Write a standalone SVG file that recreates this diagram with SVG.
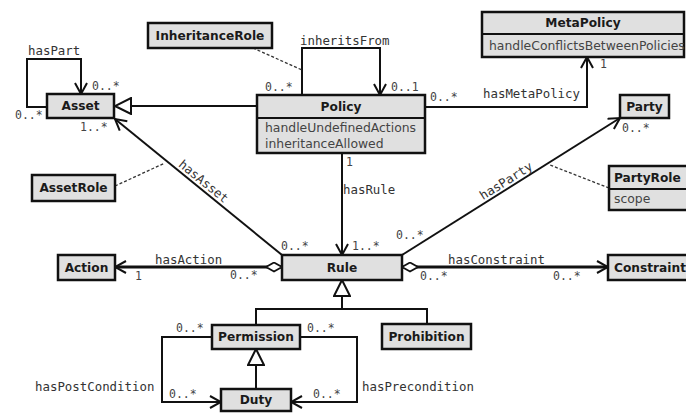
<svg xmlns="http://www.w3.org/2000/svg" width="686" height="414" viewBox="0 0 686 414">
<style>
.box{fill:#e0e0e0;stroke:#111;stroke-width:2.5}
.sep{stroke:#111;stroke-width:2}
.name{font-family:"DejaVu Sans",sans-serif;font-weight:bold;font-size:12.2px;fill:#1a1a1a}
.attr{font-family:"DejaVu Sans",sans-serif;font-size:12.4px;fill:#444}
.lbl{font-family:"DejaVu Sans Mono",monospace;font-size:12.4px;fill:#333}
.mul{font-family:"DejaVu Sans Mono",monospace;font-size:11.5px;fill:#444}
.ln{fill:none;stroke:#111;stroke-width:2}
.thick{stroke-width:3}
.dash{fill:none;stroke:#333;stroke-width:1.3;stroke-dasharray:3 2}
</style>
<defs>
<marker id="open" viewBox="0 0 13 14" refX="12" refY="7" markerWidth="13" markerHeight="14" orient="auto" markerUnits="userSpaceOnUse">
<path d="M1,1 L12,7 L1,13" fill="none" stroke="#111" stroke-width="2"/>
</marker>
<marker id="diamond" viewBox="0 0 17 11" refX="0.5" refY="5.5" markerWidth="17" markerHeight="11" orient="auto" markerUnits="userSpaceOnUse">
<path d="M0.5,5.5 L8.5,1 L16.5,5.5 L8.5,10 Z" fill="#fff" stroke="#111" stroke-width="1.8"/>
</marker>
<marker id="tri" viewBox="0 0 18 18" refX="17" refY="9" markerWidth="18" markerHeight="18" orient="auto" markerUnits="userSpaceOnUse">
<path d="M17,9 L1,1 L1,17 Z" fill="#fff" stroke="#111" stroke-width="2"/>
</marker>
</defs>
<g id="connectors">
<path class="ln" d="M47,107 L27,107 L27,59 L81,59 L81,94" marker-end="url(#open)"/>
<path class="ln" d="M302,95 L302,48 L380,48 L380,95" marker-end="url(#open)"/>
<path class="ln" d="M425,107 L587,107 L587,57" marker-end="url(#open)"/>
<path class="ln" d="M257,106 L115,106" marker-end="url(#tri)"/>
<path class="ln" d="M342,153 L342,255" marker-end="url(#open)"/>
<path class="ln" d="M282,255 L115,119" marker-end="url(#open)"/>
<path class="ln" d="M402,255 L620,118" marker-end="url(#open)"/>
<path class="ln thick" d="M282,267 L115,267" marker-start="url(#diamond)" marker-end="url(#open)"/>
<path class="ln thick" d="M402,267 L608,267" marker-start="url(#diamond)" marker-end="url(#open)"/>
<path class="ln" d="M427,325 L427,309 L342,309"/>
<path class="ln" d="M256,325 L256,309 L342,309 L342,280" marker-end="url(#tri)"/>
<path class="ln" d="M256,389 L256,349" marker-end="url(#tri)"/>
<path class="ln" d="M212,337 L162,337 L162,402 L221,402" marker-end="url(#open)"/>
<path class="ln" d="M300,337 L357,337 L357,402 L291,402" marker-end="url(#open)"/>
<path class="dash" d="M253,48 L302,70"/>
<path class="dash" d="M115,186 L165,163"/>
<path class="dash" d="M609,188 L550,165"/>
<text class="lbl" x="28" y="55">hasPart</text>
<text class="lbl" x="300" y="45">inheritsFrom</text>
<text class="lbl" x="483" y="98">hasMetaPolicy</text>
<text class="lbl" x="343" y="194">hasRule</text>
<text class="lbl" transform="translate(199,187) rotate(39.2)" text-anchor="middle" y="-3">hasAsset</text>
<text class="lbl" transform="translate(510,187) rotate(-32.1)" text-anchor="middle" y="-3">hasParty</text>
<text class="lbl" x="155" y="264">hasAction</text>
<text class="lbl" x="448" y="264">hasConstraint</text>
<text class="lbl" x="35" y="391">hasPostCondition</text>
<text class="lbl" x="362" y="391">hasPrecondition</text>
<text class="mul" x="92" y="90">0..*</text>
<text class="mul" x="15" y="119">0..*</text>
<text class="mul" x="80" y="131">1..*</text>
<text class="mul" x="265" y="91">0..*</text>
<text class="mul" x="391" y="91">0..1</text>
<text class="mul" x="430" y="101">0..*</text>
<text class="mul" x="600" y="68">1</text>
<text class="mul" x="622" y="132">0..*</text>
<text class="mul" x="346" y="166">1</text>
<text class="mul" x="281" y="250">0..*</text>
<text class="mul" x="352" y="250">1..*</text>
<text class="mul" x="396" y="239">0..*</text>
<text class="mul" x="135" y="280">1</text>
<text class="mul" x="230" y="279">0..*</text>
<text class="mul" x="420" y="280">0..*</text>
<text class="mul" x="553" y="280">0..*</text>
<text class="mul" x="176" y="332">0..*</text>
<text class="mul" x="307" y="332">0..*</text>
<text class="mul" x="169" y="398">0..*</text>
<text class="mul" x="313" y="398">0..*</text>
</g>
<g id="Asset"><rect class="box" x="47" y="94" width="67" height="24"/><text class="name" x="80.5" y="110" text-anchor="middle">Asset</text></g>
<g id="InheritanceRole"><rect class="box" x="148" y="23" width="124" height="25"/><text class="name" x="210" y="40" text-anchor="middle">InheritanceRole</text></g>
<g id="Policy"><rect class="box" x="257" y="95" width="168" height="58"/><line class="sep" x1="257" y1="118" x2="425" y2="118"/><text class="name" x="341" y="111" text-anchor="middle">Policy</text><text class="attr" x="265" y="132">handleUndefinedActions</text><text class="attr" x="265" y="148">inheritanceAllowed</text></g>
<g id="MetaPolicy"><rect class="box" x="482" y="12" width="202" height="45"/><line class="sep" x1="482" y1="34" x2="684" y2="34"/><text class="name" x="583" y="27" text-anchor="middle">MetaPolicy</text><text class="attr" x="489" y="50">handleConflictsBetweenPolicies</text></g>
<g id="Party"><rect class="box" x="620" y="95" width="49" height="23"/><text class="name" x="644.5" y="111" text-anchor="middle">Party</text></g>
<g id="AssetRole"><rect class="box" x="32" y="175" width="83" height="26"/><text class="name" x="73.5" y="192" text-anchor="middle">AssetRole</text></g>
<g id="PartyRole"><rect class="box" x="609" y="166" width="90" height="44"/><line class="sep" x1="609" y1="189" x2="699" y2="189"/><text class="name" x="614" y="182">PartyRole</text><text class="attr" x="614" y="203">scope</text></g>
<g id="Action"><rect class="box" x="58" y="255" width="57" height="25"/><text class="name" x="86.5" y="272" text-anchor="middle">Action</text></g>
<g id="Rule"><rect class="box" x="282" y="255" width="120" height="25"/><text class="name" x="342" y="272" text-anchor="middle">Rule</text></g>
<g id="Constraint"><rect class="box" x="608" y="255" width="92" height="25"/><text class="name" x="614" y="272">Constraint</text></g>
<g id="Permission"><rect class="box" x="212" y="325" width="88" height="24"/><text class="name" x="256" y="341" text-anchor="middle">Permission</text></g>
<g id="Prohibition"><rect class="box" x="382" y="324" width="89" height="25"/><text class="name" x="426.5" y="341" text-anchor="middle">Prohibition</text></g>
<g id="Duty"><rect class="box" x="221" y="389" width="70" height="22"/><text class="name" x="256" y="404" text-anchor="middle">Duty</text></g>
</svg>
